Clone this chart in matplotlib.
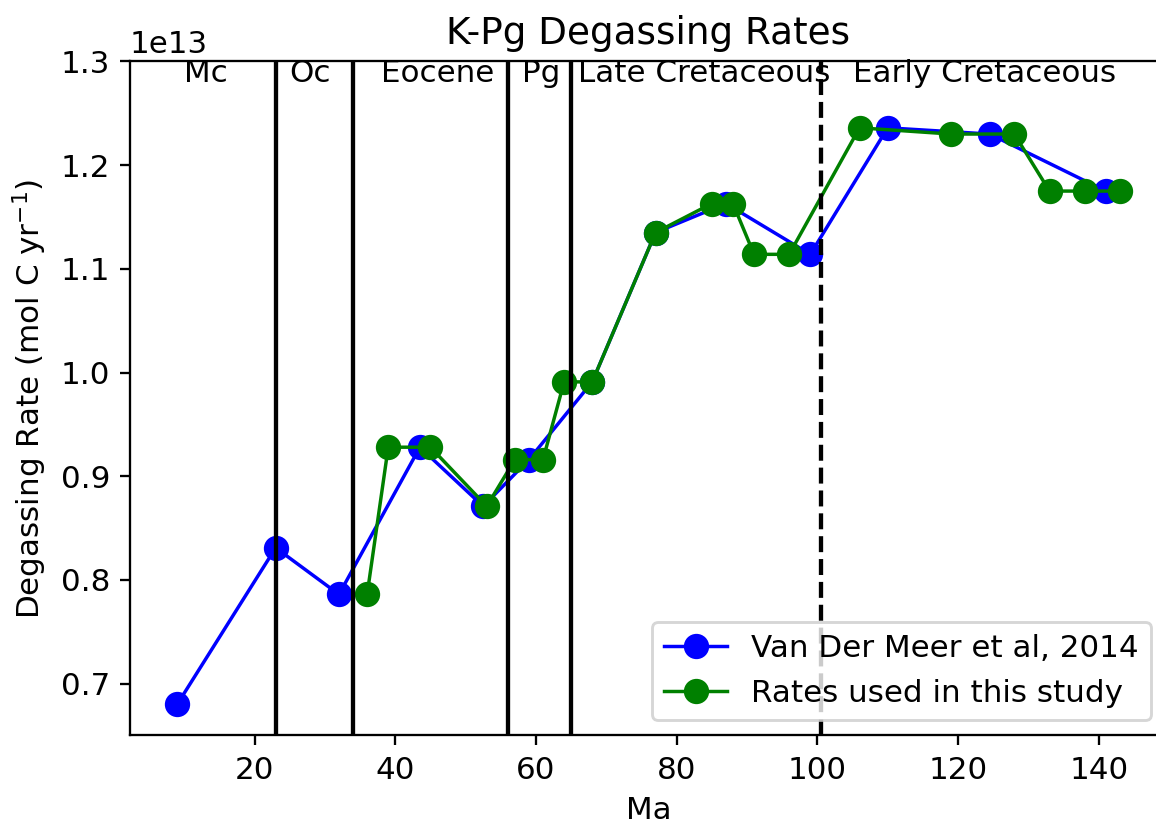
import matplotlib
matplotlib.use("Agg")
import matplotlib.pyplot as plt
import numpy as np

# Van Der Meer et al. (2014) degassing rates (Ma, 1e13 mol C / yr)
vdm_age = [9, 23, 32, 43.5, 52.5, 59, 68, 77, 87, 99, 110, 124.5, 141]
vdm_rate = [0.680, 0.831, 0.786, 0.928, 0.871, 0.916, 0.991, 1.135,
            1.163, 1.114, 1.236, 1.230, 1.175]

# Rates adopted in this study
study_age = [36, 39, 45, 53, 57, 61, 64, 68, 77, 85, 88, 91, 96, 106,
             119, 128, 133, 138, 143]
study_rate = [0.786, 0.928, 0.928, 0.871, 0.916, 0.916, 0.991, 0.991,
              1.135, 1.163, 1.163, 1.114, 1.114, 1.236, 1.230, 1.230,
              1.175, 1.175, 1.175]

# Period / epoch boundaries (Ma) and labels
solid_bounds = [23, 34, 56, 65]
dashed_bounds = [100.5]
era_names = ["Mc", "Oc", "Eocene", "Pg", "Late Cretaceous", "Early Cretaceous"]
era_x = [10, 25, 38, 58, 66, 105]

scale = 1e13

plt.rcParams["font.size"] = 10.8

dpi = 207
fig = plt.figure(figsize=(1156 / dpi, 826 / dpi), dpi=dpi)
ax = fig.add_axes([0.1125, 0.1096, 0.897, 0.816])

ax.plot(vdm_age, np.array(vdm_rate) * scale, "-o", color="blue",
        lw=1.2, markersize=7.8, label="Van Der Meer et al, 2014")
ax.plot(study_age, np.array(study_rate) * scale, "-o", color="green",
        lw=1.2, markersize=7.8, label="Rates used in this study")

for b in solid_bounds:
    ax.axvline(b, color="black", lw=1.5)
for b in dashed_bounds:
    ax.axvline(b, color="black", lw=1.5, ls="--")

ax.set_ylim(0.65 * scale, 1.3 * scale)

for name, x in zip(era_names, era_x):
    ax.text(x, 1.28 * scale, name, ha="left", fontsize=10.8)

ax.set_title("K-Pg Degassing Rates", fontsize=13)
ax.set_xlabel("Ma")
ax.set_ylabel("Degassing Rate (mol C yr$^{-1}$)")
ax.legend(loc="lower right")

fig.savefig("out.png", dpi=dpi)
